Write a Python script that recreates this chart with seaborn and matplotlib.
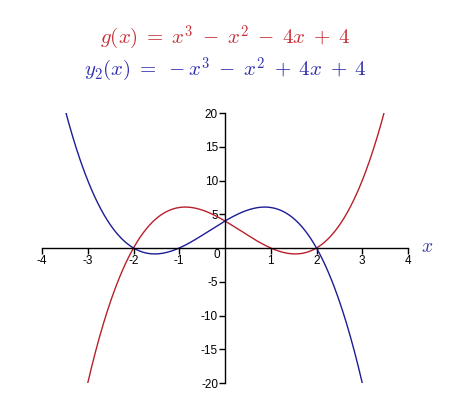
import numpy as np
import pandas as pd
import matplotlib
matplotlib.use("Agg")
import matplotlib.pyplot as plt
import seaborn as sns

# Polynomial coefficients as printed in the chart titles (highest power first).
g_coeffs = [1, -1, -4, 4]      # g(x) = x^3 - x^2 - 4x + 4
y2_coeffs = [-1, -1, 4, 4]     # y2(x) = -x^3 - x^2 + 4x + 4
g_range = [-3.0, 3.5]
y2_range = [-3.5, 3.0]
x_ticks = [-4, -3, -2, -1, 1, 2, 3, 4]
y_ticks = [-20, -15, -10, -5, 5, 10, 15, 20]

red = "#b8202c"
blue = "#1c1c96"

sns.set_style("white")
plt.rcParams['font.family'] = ['Liberation Sans', 'DejaVu Sans']
plt.rcParams['mathtext.fontset'] = 'cm'
plt.rcParams['text.color'] = 'black'
plt.rcParams['xtick.color'] = 'black'
plt.rcParams['ytick.color'] = 'black'

xg = np.linspace(g_range[0], g_range[1], 300)
xy = np.linspace(y2_range[0], y2_range[1], 300)
df = pd.concat([
    pd.DataFrame({'x': xg, 'y': np.polyval(g_coeffs, xg), 'curve': 'g'}),
    pd.DataFrame({'x': xy, 'y': np.polyval(y2_coeffs, xy), 'curve': 'y2'}),
])

W, H = 459, 413
fig = plt.figure(figsize=(W / 100, H / 100), dpi=100)
ax = fig.add_axes([42 / W, (H - 383) / H, 366 / W, 270 / H])

sns.lineplot(data=df, x='x', y='y', hue='curve', palette={'g': red, 'y2': blue},
             linewidth=1.0, legend=False, ax=ax, sort=False, estimator=None)

ax.set_xlim(-4, 4)
ax.set_ylim(-20, 20)
for s in ['top', 'right']:
    ax.spines[s].set_visible(False)
ax.spines['left'].set_position(('data', 0))
ax.spines['bottom'].set_position(('data', 0))
for s in ['left', 'bottom']:
    ax.spines[s].set_color('black')
    ax.spines[s].set_linewidth(1.0)

ax.set_xticks(x_ticks)
ax.set_xticklabels([str(t) for t in x_ticks])
ax.set_yticks(y_ticks)
ax.set_yticklabels([str(t) for t in y_ticks])
ax.tick_params(axis='both', direction='out', length=4, width=1, colors='black',
               labelsize=8.5, pad=1, bottom=True, left=True)
ax.set_xlabel('')
ax.set_ylabel('')
ax.text(-0.17, -1.0, '0', fontsize=8.5, ha='center', va='center')
ax.text(4.42, 0.1, '$x$', fontsize=14, color='#3a3ab0', ha='center', va='center')

fig.text(225 / W, 1 - 38 / H, r'$g(x)\;=\;x^3\;-\;x^2\;-\;4x\;+\;4$', color='#c83038',
         fontsize=15, ha='center', va='center')
fig.text(225 / W, 1 - 70 / H, r'$y_2(x)\;=\;-x^3\;-\;x^2\;+\;4x\;+\;4$', color='#3030b0',
         fontsize=15, ha='center', va='center')

fig.savefig('out.png', dpi=100)
